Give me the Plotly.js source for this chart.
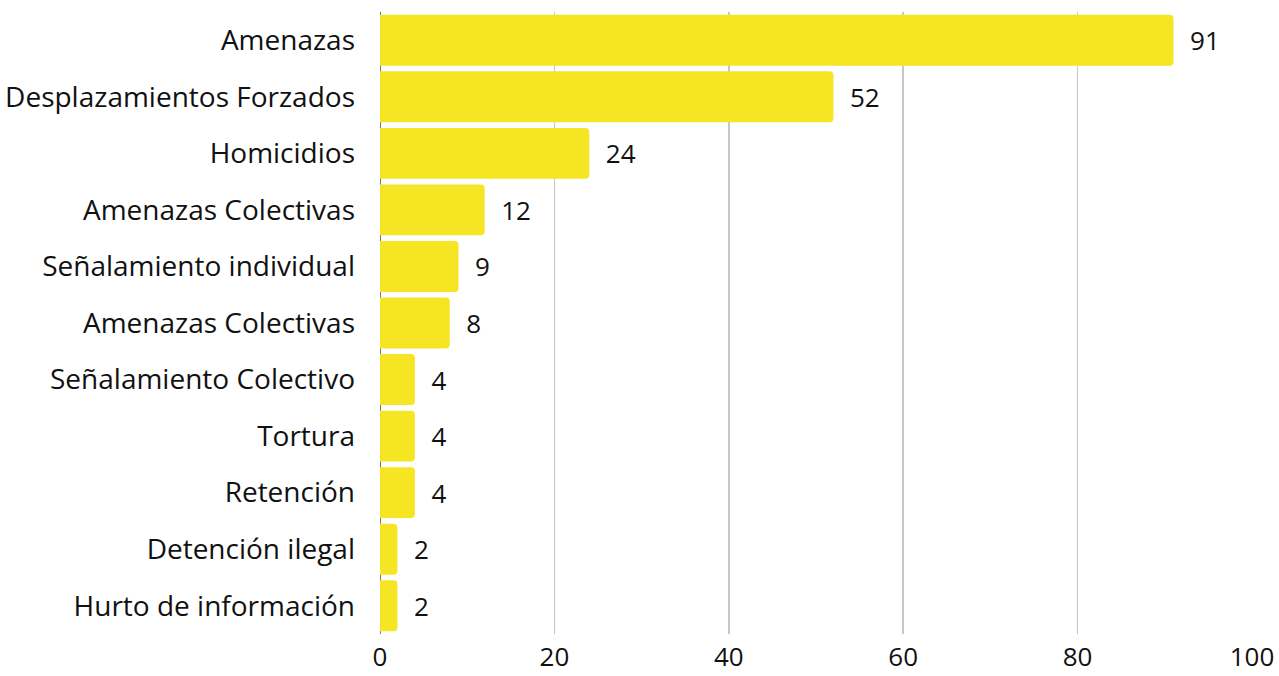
<!DOCTYPE html>
<html>
<head>
<meta charset="utf-8">
<script src="https://cdn.plot.ly/plotly-3.0.1.min.js"></script>
<style>html,body{margin:0;padding:0;background:#fff;}#chart{width:1279px;height:676px;}</style>
</head>
<body>
<div id="chart"></div>
<script>
const categories = ["Amenazas","Desplazamientos Forzados","Homicidios","Amenazas Colectivas","Señalamiento individual","Amenazas Colectivas","Señalamiento Colectivo","Tortura","Retención","Detención ilegal","Hurto de información"];
const values = [91,52,24,12,9,8,4,4,4,2,2];
const xTicks = [0,20,40,60,80,100];

const positions = categories.map((c,i)=>i);
const trace = {
  type:'bar', orientation:'h',
  x: values, y: positions,
  marker:{color:'#F6E523', cornerradius:4},
  text: values.map(v=>String(v)),
  texttemplate:'  %{text}',
  textposition:'outside',
  cliponaxis:false,
  textfont:{family:'"Open Sans", sans-serif', size:26, color:'#111'},
  hoverinfo:'none'
};
const layout = {
  width:1279, height:676,
  margin:{l:380, r:27, t:12, b:42},
  paper_bgcolor:'#fff', plot_bgcolor:'#fff',
  bargap:0.1,
  showlegend:false,
  font:{family:'"Open Sans", sans-serif', color:'#111'},
  xaxis:{range:[0,100], tickvals:xTicks, ticktext:xTicks.map(String), showgrid:true, gridcolor:'#c6c6c6', gridwidth:1.5,
    zeroline:false, showline:false, ticks:'', ticklabelstandoff:5, tickfont:{size:26, color:'#111'}, fixedrange:true},
  yaxis:{autorange:false, tickvals:positions, ticktext:categories, showgrid:false, zeroline:false,
    showline:false, ticks:'', ticklabelstandoff:24, tickfont:{size:28, color:'#111'}, range:[10.5,-0.5]},
  shapes:[{type:'line', xref:'x', yref:'paper', x0:0, x1:0, y0:0, y1:1, line:{color:'#777', width:2}, layer:'below'}]
};
Plotly.newPlot('chart',[trace],layout,{displayModeBar:false, staticPlot:true});
</script>
</body>
</html>
